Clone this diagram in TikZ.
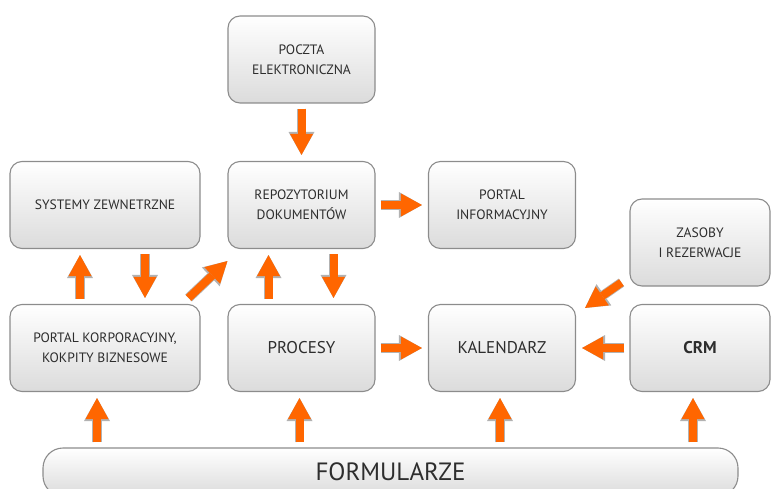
\documentclass[tikz,border=0pt]{standalone}
\usepackage{fontspec}
\setmainfont{PT Sans}
\usetikzlibrary{arrows.meta}
\definecolor{boxline}{RGB}{140,140,140}
\definecolor{boxtext}{RGB}{45,45,45}
\definecolor{flowor}{RGB}{255,102,0}

\begin{document}
\begin{tikzpicture}[x=1pt,y=-1pt,
    modul/.style={draw=boxline, line width=1.1pt, rounded corners=12pt,
        top color=white, bottom color=black!14, text=boxtext, align=center,
        minimum width=147pt, minimum height=87pt, inner sep=2pt,
        font=\fontsize{13.6}{20}\selectfont},
    wide/.style={minimum width=190pt},
    big/.style={font=\fontsize{17}{20}\selectfont},
    flow/.style={draw=flowor, line width=8pt, shorten <=5pt, shorten >=6pt,
        -{Triangle[length=21pt,width=23pt,line width=0pt]},
        preaction={draw=black!30, line width=9.6pt,
            -{Triangle[length=23pt,width=26pt,line width=0pt]}}}
]
    \clip (0,0) rectangle (771,489);
    \node[modul] (poczta) at (301.5,59.5) {POCZTA\\ELEKTRONICZNA};
    \node[modul] (repo) at (301.5,205) {REPOZYTORIUM\\DOKUMENTÓW};
    \node[modul, wide] (sys) at (105,205) {SYSTEMY ZEWNETRZNE};
    \node[modul] (info) at (502,205) {PORTAL\\INFORMACYJNY};
    \node[modul, minimum width=140pt] (zasoby) at (700,242.5) {ZASOBY\\I REZERWACJE};
    \node[modul, wide] (korp) at (105,348) {PORTAL KORPORACYJNY,\\KOKPITY BIZNESOWE};
    \node[modul, big] (proc) at (301.5,348) {PROCESY};
    \node[modul, big] (kal) at (502,348) {KALENDARZ};
    \node[modul, big, minimum width=140pt] (crm) at (700,348) {\bfseries CRM};
    \node[modul, minimum width=695pt, minimum height=48pt, rounded corners=20pt,
        font=\fontsize{25}{26}\selectfont] (form) at (390.5,472) {FORMULARZE};

    \draw[flow] (poczta) -- (repo);
    \draw[flow] (repo) -- (info);
    \draw[flow] ([xshift=-25pt]korp.north) -- ([xshift=-25pt]sys.south);
    \draw[flow] ([xshift=40pt]sys.south) -- ([xshift=40pt]korp.north);
    \draw[flow, shorten <=0pt, shorten >=0pt] ([xshift=-12pt,yshift=6pt]korp.north east) -- ([yshift=-12pt]repo.south west);
    \draw[flow] ([xshift=-33pt]proc.north) -- ([xshift=-33pt]repo.south);
    \draw[flow] ([xshift=32pt]repo.south) -- ([xshift=32pt]proc.north);
    \draw[flow] (proc) -- (kal);
    \draw[flow] (crm) -- (kal);
    \draw[flow, shorten <=0pt, shorten >=0pt] ([xshift=-8pt,yshift=4pt]zasoby.south west) -- ([xshift=9pt,yshift=-4pt]kal.north east);
    % formularze feeds the bottom row
    \foreach \n/\dx in {korp/-8, proc/-2, kal/-2, crm/-7}
        \draw[flow] ([xshift=\dx pt]\n.south |- form.north) -- ([xshift=\dx pt]\n.south);
\end{tikzpicture}
\end{document}
